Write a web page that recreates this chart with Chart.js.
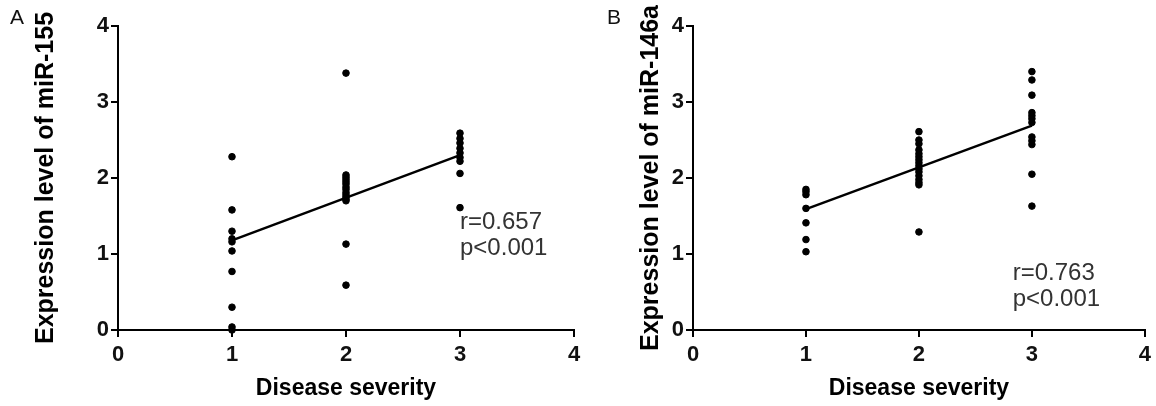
<!DOCTYPE html>
<html>
<head>
<meta charset="utf-8">
<script src="https://cdn.jsdelivr.net/npm/chart.js@4/dist/chart.umd.min.js"></script>
<style>
  html, body { margin: 0; padding: 0; background: #fff; }
  #wrap { position: relative; width: 1156px; height: 406px; overflow: hidden; }
  canvas { position: absolute; top: 0; }
  #chartA { left: 0; }
  #chartB { left: 580px; }
</style>
</head>
<body>
<div id="wrap">
  <canvas id="chartA" width="590" height="406"></canvas>
  <canvas id="chartB" width="576" height="406"></canvas>
</div>
<script>
// Disease severity groups and expression values
const severityLevels = [1, 2, 3];
const mir155Level1 = [2.28, 1.58, 1.30, 1.20, 1.16, 1.04, 0.77, 0.30, 0.04, 0.0];
const mir155Level2 = [3.38, 2.04, 2.01, 1.98, 1.95, 1.92, 1.88, 1.85, 1.81, 1.78, 1.75, 1.72, 1.70, 1.13, 0.59];
const mir155Level3 = [2.59, 2.52, 2.46, 2.39, 2.33, 2.27, 2.22, 2.06, 1.61];
const mir146aLevel1 = [1.85, 1.82, 1.78, 1.60, 1.41, 1.19, 1.03];
const mir146aLevel2 = [2.61, 2.50, 2.45, 2.37, 2.32, 2.28, 2.24, 2.20, 2.16, 2.12, 2.08, 2.03, 1.98, 1.94, 1.91, 1.29];
const mir146aLevel3 = [3.40, 3.29, 3.09, 2.86, 2.82, 2.78, 2.73, 2.54, 2.49, 2.44, 2.05, 1.63];

// Regression line: fitted values at severity 1 and 3
const fitX = [1, 3];
const fitA = [1.18, 2.30];
const fitB = [1.59, 2.69];

const xTicks = [0, 1, 2, 3, 4];
const yTicks = [0, 1, 2, 3, 4];
const statsA = ['r=0.657', 'p<0.001'];
const statsB = ['r=0.763', 'p<0.001'];

const FONT = '"Liberation Sans", Arial, Helvetica, sans-serif';

function toPoints(groups) {
    const pts = [];
    groups.forEach(function (vals, i) {
        vals.forEach(function (v) { pts.push({ x: severityLevels[i], y: v }); });
    });
    return pts;
}

// draws the panel letter and the r / p text
const panelText = {
    id: 'panelText',
    afterDraw(chart, args, opts) {
        const ctx = chart.ctx;
        const xs = chart.scales.x, ys = chart.scales.y;
        ctx.save();
        ctx.textBaseline = 'middle';
        ctx.textAlign = 'left';
        ctx.fillStyle = '#111';
        ctx.font = '21px ' + FONT;
        ctx.fillText(opts.letter, opts.letterX, 18);
        ctx.fillStyle = '#333';
        ctx.font = '24px ' + FONT;
        const px = xs.getPixelForValue(opts.at[0]);
        const py = ys.getPixelForValue(opts.at[1]);
        ctx.fillText(opts.lines[0], px, py);
        ctx.fillText(opts.lines[1], px, py + 26);
        ctx.restore();
    }
};

const tickFont = { family: FONT, size: 22, weight: 'bold' };

function makeChart(id, groups, fit, yTitle, cfg) {
    const ctx = document.getElementById(id).getContext('2d');
    return new Chart(ctx, {
        type: 'scatter',
        data: {
            datasets: [{
                data: toPoints(groups),
                backgroundColor: '#000',
                borderColor: '#000',
                pointRadius: 3.3,
                pointHoverRadius: 3.3,
                clip: false
            }, {
                type: 'line',
                data: fitX.map(function (x, i) { return { x: x, y: fit[i] }; }),
                borderColor: '#000',
                borderWidth: 2.5,
                pointRadius: 0,
                fill: false,
                clip: false
            }]
        },
        options: {
            responsive: false,
            animation: false,
            layout: { padding: { top: 26, right: cfg.padRight, left: 0, bottom: 0 } },
            plugins: {
                legend: { display: false },
                tooltip: { enabled: false },
                panelText: { letter: cfg.letter, letterX: cfg.letterX, lines: cfg.stats, at: cfg.statsAt }
            },
            scales: {
                x: {
                    type: 'linear',
                    min: 0,
                    max: 4,
                    afterBuildTicks: function (scale) { scale.ticks = xTicks.map(function (v) { return { value: v }; }); },
                    afterFit: function (scale) { scale.height = 76; },
                    ticks: { color: '#111', padding: 5, font: tickFont },
                    grid: { drawOnChartArea: false, drawTicks: true, tickLength: 7, color: '#000', lineWidth: 2 },
                    border: { display: true, color: '#000', width: 2 },
                    title: {
                        display: true,
                        text: 'Disease severity',
                        color: '#000',
                        padding: { top: 0, bottom: 4 },
                        font: { family: FONT, size: 23, weight: 'bold' }
                    }
                },
                y: {
                    type: 'linear',
                    min: 0,
                    max: 4,
                    afterBuildTicks: function (scale) { scale.ticks = yTicks.map(function (v) { return { value: v }; }); },
                    afterFit: function (scale) { scale.width = cfg.axisLeft; },
                    ticks: { color: '#111', padding: 2, font: tickFont },
                    grid: { drawOnChartArea: false, drawTicks: true, tickLength: 7, color: '#000', lineWidth: 2 },
                    border: { display: true, color: '#000', width: 2 },
                    title: {
                        display: true,
                        text: yTitle,
                        color: '#000',
                        padding: { top: cfg.titlePad, bottom: 0 },
                        font: { family: FONT, size: 25, weight: 'bold' }
                    }
                }
            }
        },
        plugins: [panelText]
    });
}

makeChart('chartA', [mir155Level1, mir155Level2, mir155Level3], fitA, 'Expression level of miR-155', {
    axisLeft: 118, padRight: 16, titlePad: 31, letter: 'A', letterX: 10, stats: statsA, statsAt: [3.0, 1.41]
});
makeChart('chartB', [mir146aLevel1, mir146aLevel2, mir146aLevel3], fitB, 'Expression level of miR-146a', {
    axisLeft: 113, padRight: 5, titlePad: 56, letter: 'B', letterX: 27, stats: statsB, statsAt: [2.83, 0.75]
});
</script>
</body>
</html>
